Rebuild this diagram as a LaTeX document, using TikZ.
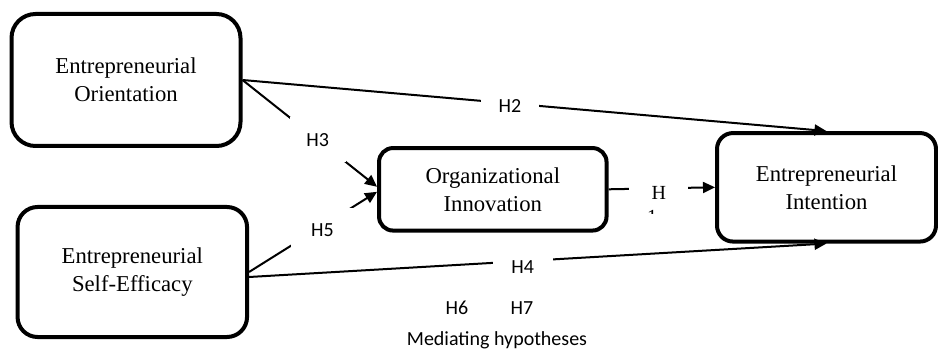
\documentclass[tikz,border=0pt]{standalone}
\usepackage{fontspec}
\setmainfont{Liberation Serif}
\newfontfamily\labfont{Carlito}
\usetikzlibrary{arrows.meta}
\tikzset{
    mybox/.style = {rectangle, rounded corners=20pt, line width=4pt, draw=black, align=center,font=\fontsize{22.7}{28}\selectfont,text=black},
    mylab/.style = {fill=white, inner sep=0pt, font=\labfont\fontsize{20}{24}\selectfont,text=black},
    mylabs/.style = {fill=white, inner sep=0pt, font=\fontsize{20}{24}\selectfont,text=black},
    edgen/.style = {-,line width=2pt,black},
    edgea/.style = {-{Triangle[length=12pt,width=11pt]},line width=2pt,black}, % hypothesis path
}

\begin{document}
\begin{tikzpicture}[x=1pt,y=-1pt]
\node[mybox, rounded corners=24pt, minimum width=229pt, minimum height=132pt] at (126.0, 80.0) (eo) {Entrepreneurial\\Orientation};
\node[mybox, minimum width=229.5pt, minimum height=130pt] at (132.3, 272.0) (ese) {Entrepreneurial\\Self-Efficacy};
\node[mybox, rounded corners=14pt, minimum width=227.5pt, minimum height=82.5pt] at (492.8, 189.3) (oi) {Organizational\\Innovation};
\node[mybox, rounded corners=16pt, minimum width=219pt, minimum height=108.5pt] at (826.5, 187.3) (ei) {Entrepreneurial\\Intention};
%
\draw[edgea] (eo.east) -- node[mylab, pos=0.458, inner xsep=18pt, inner ysep=3pt, yshift=-2.5pt] (h2) {H2} (ei.north);
\draw[edgea] (eo.east) -- node[mylab, pos=0.559, inner xsep=16.5pt, inner ysep=16pt] (h3) {H3} ([yshift=2.5pt]oi.west);
\draw[edgea] (ese.east) -- node[mylab, pos=0.574, inner xsep=20pt, inner ysep=15.5pt, yshift=-4pt] (h5) {H5} ([yshift=-2.5pt]oi.west);
\draw[edgea] ([yshift=-5pt]ese.east) -- node[mylab, pos=0.474, inner xsep=18.5pt, inner ysep=3pt, yshift=-6pt] (h4) {H4} (ei.south);
\draw[edgea] (oi.east) -- node[mylabs, pos=0.472, minimum width=59pt, inner ysep=2pt, yshift=-5pt] (h1) {H\hspace{9pt}} (ei.west);
\begin{scope}
\clip (640, 205) rectangle (665, 214);
\node[mylabs, fill=none, anchor=base] at (652.0, 223.5) (one) {1};
\end{scope}
%
\node[mylab, fill=none, anchor=base] at (457.0, 314.0) (h6) {H6};
\node[mylab, fill=none, anchor=base] at (522.0, 314.0) (h7) {H7};
\node[mylab, fill=none, anchor=base] at (497.0, 345.0) (med) {Mediating hypotheses};

\path[use as bounding box] (0.0, 0.0) rectangle (938.0, 350.0);
\end{tikzpicture}
\end{document}
